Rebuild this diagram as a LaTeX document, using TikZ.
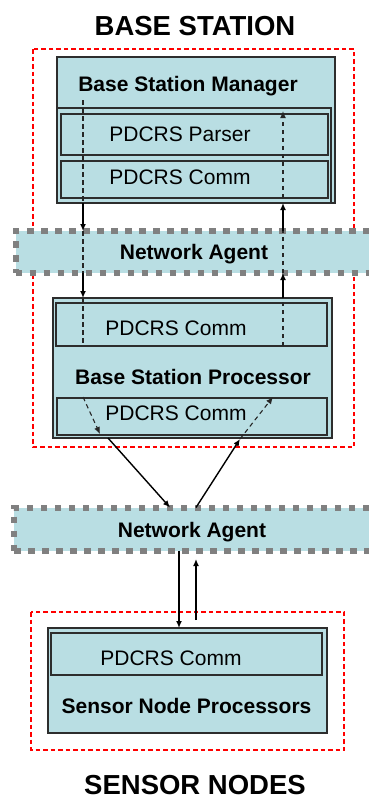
\documentclass[tikz,border=0pt]{standalone}
\usepackage{fontspec}
\setmainfont{Liberation Sans}
\usetikzlibrary{arrows.meta}

\definecolor{panel}{RGB}{185,222,227}
\definecolor{agentgray}{RGB}{128,128,128}
\definecolor{framegray}{RGB}{45,45,45}

\tikzset{
  box/.style={draw=framegray, fill=panel, line width=1.2pt, anchor=north west,
    inner sep=0pt, outer sep=0pt},
  agent/.style={draw=agentgray, fill=panel, line width=6pt,
    dash pattern=on 6.5pt off 7.5pt, anchor=north west, inner sep=0pt, outer sep=0pt},
  region/.style={draw=red, line width=1.2pt, dash pattern=on 4.5pt off 3pt},
  plain/.style={anchor=base, inner sep=0pt, font=\fontsize{21}{25}\selectfont},
  bold/.style={anchor=base, inner sep=0pt, font=\fontsize{21}{25}\selectfont\bfseries},
  title/.style={anchor=base, inner sep=0pt, font=\fontsize{27.5}{32}\selectfont\bfseries},
  tip/.style={-{Latex[length=7pt,width=6pt]}},
  flow/.style={line width=1.4pt, black},
  inner flow/.style={line width=1.1pt, black!85, dash pattern=on 4.5pt off 3.5pt},
}

\begin{document}
\begin{tikzpicture}[x=1pt,y=-1pt]
\clip (0,0) rectangle (369,801);

% base station side
\node[title] (bstitle) at (195,35) {BASE STATION};
\draw[region] (33,49) rectangle (354,447);

\node[box, minimum width=278pt, minimum height=146pt] (bsm) at (57,57) {};
\node[box, minimum width=274pt, minimum height=95pt] (bsmcore) at (57,108) {};
\node[box, minimum width=267pt, minimum height=41pt] (parser) at (61,114) {};
\node[box, minimum width=267pt, minimum height=37pt] (bsmcomm) at (61,161) {};
\node[bold] (bsmtext) at (188,91) {Base Station Manager};
\node[plain] (parsertext) at (180,141) {PDCRS Parser};
\node[plain] (bsmcommtext) at (180,184) {PDCRS Comm};

\node[box, minimum width=279pt, minimum height=140pt] (bsp) at (53,298) {};
\node[box, minimum width=271pt, minimum height=43pt] (bspcommtop) at (56,303) {};
\node[box, minimum width=270pt, minimum height=37pt] (bspcommbot) at (57,398) {};
\node[plain] (bspcommtoptext) at (176,335) {PDCRS Comm};
\node[bold] (bsptext) at (193,384) {Base Station Processor};
\node[plain] (bspcommbottext) at (176,420) {PDCRS Comm};

\node[agent, minimum width=380pt, minimum height=42pt] (topagent) at (15.5,231) {};
\node[bold] (topagenttext) at (194,259) {Network Agent};

% sensor side
\node[agent, minimum width=380pt, minimum height=43pt] (botagent) at (14,507.5) {};
\node[bold] (botagenttext) at (192,537) {Network Agent};

\draw[region] (31,612) rectangle (344,750);
\node[box, minimum width=279pt, minimum height=105pt] (snp) at (48,628) {};
\node[box, minimum width=271pt, minimum height=42pt] (snpcomm) at (51,633) {};
\node[plain] (snpcommtext) at (171,665) {PDCRS Comm};
\node[bold] (snptext) at (186.5,713) {Sensor Node Processors};
\node[title] (sntitle) at (195,794) {SENSOR NODES};

% downward path at the left
\coordinate (dnx) at (83,100);
\draw[inner flow] (dnx) -- (dnx |- bsm.south);
\draw[flow, tip] (dnx |- bsm.south) -- (dnx |- topagent.north);
\draw[inner flow] (dnx |- topagent.north) -- (dnx |- topagent.south);
\draw[flow, tip] (dnx |- topagent.south) -- (dnx |- bsp.north);
\draw[inner flow] (dnx |- bsp.north) -- (dnx |- bspcommtop.south);

% upward path at the right
\coordinate (upx) at (283,111);
\draw[inner flow] (upx |- bspcommtop.south) -- (upx |- bsp.north);
\draw[flow, tip] (upx |- bsp.north) -- (upx |- topagent.south);
\draw[inner flow] (upx |- topagent.south) -- (upx |- topagent.north);
\draw[flow, tip] (upx |- topagent.north) -- (upx |- bsm.south);
\draw[inner flow, tip] (upx |- bsmcomm.south) -- (upx);

% processor to and from the lower agent
\coordinate (outa) at (83,397);
\coordinate (outb) at (100,434);
\coordinate (outc) at (108,438);
\coordinate (downx) at (170,0);
\coordinate (risex) at (196,0);
\coordinate (ina) at (240,439);
\coordinate (inb) at (273,397);
\draw[inner flow, tip] (outa) -- (outb);
\draw[flow, tip] (outc) -- (downx |- botagent.north);
\draw[flow, tip] (risex |- botagent.north) -- (ina);
\draw[inner flow, tip] (ina) -- (inb);

% lower agent to and from the sensor nodes
\coordinate (snx) at (179,0);
\coordinate (snup) at (196,620);
\coordinate (sntop) at (196,559);
\draw[flow, tip] (snx |- botagent.south) -- (snx |- snp.north);
\draw[flow, tip] (snup) -- (sntop);
\end{tikzpicture}
\end{document}
